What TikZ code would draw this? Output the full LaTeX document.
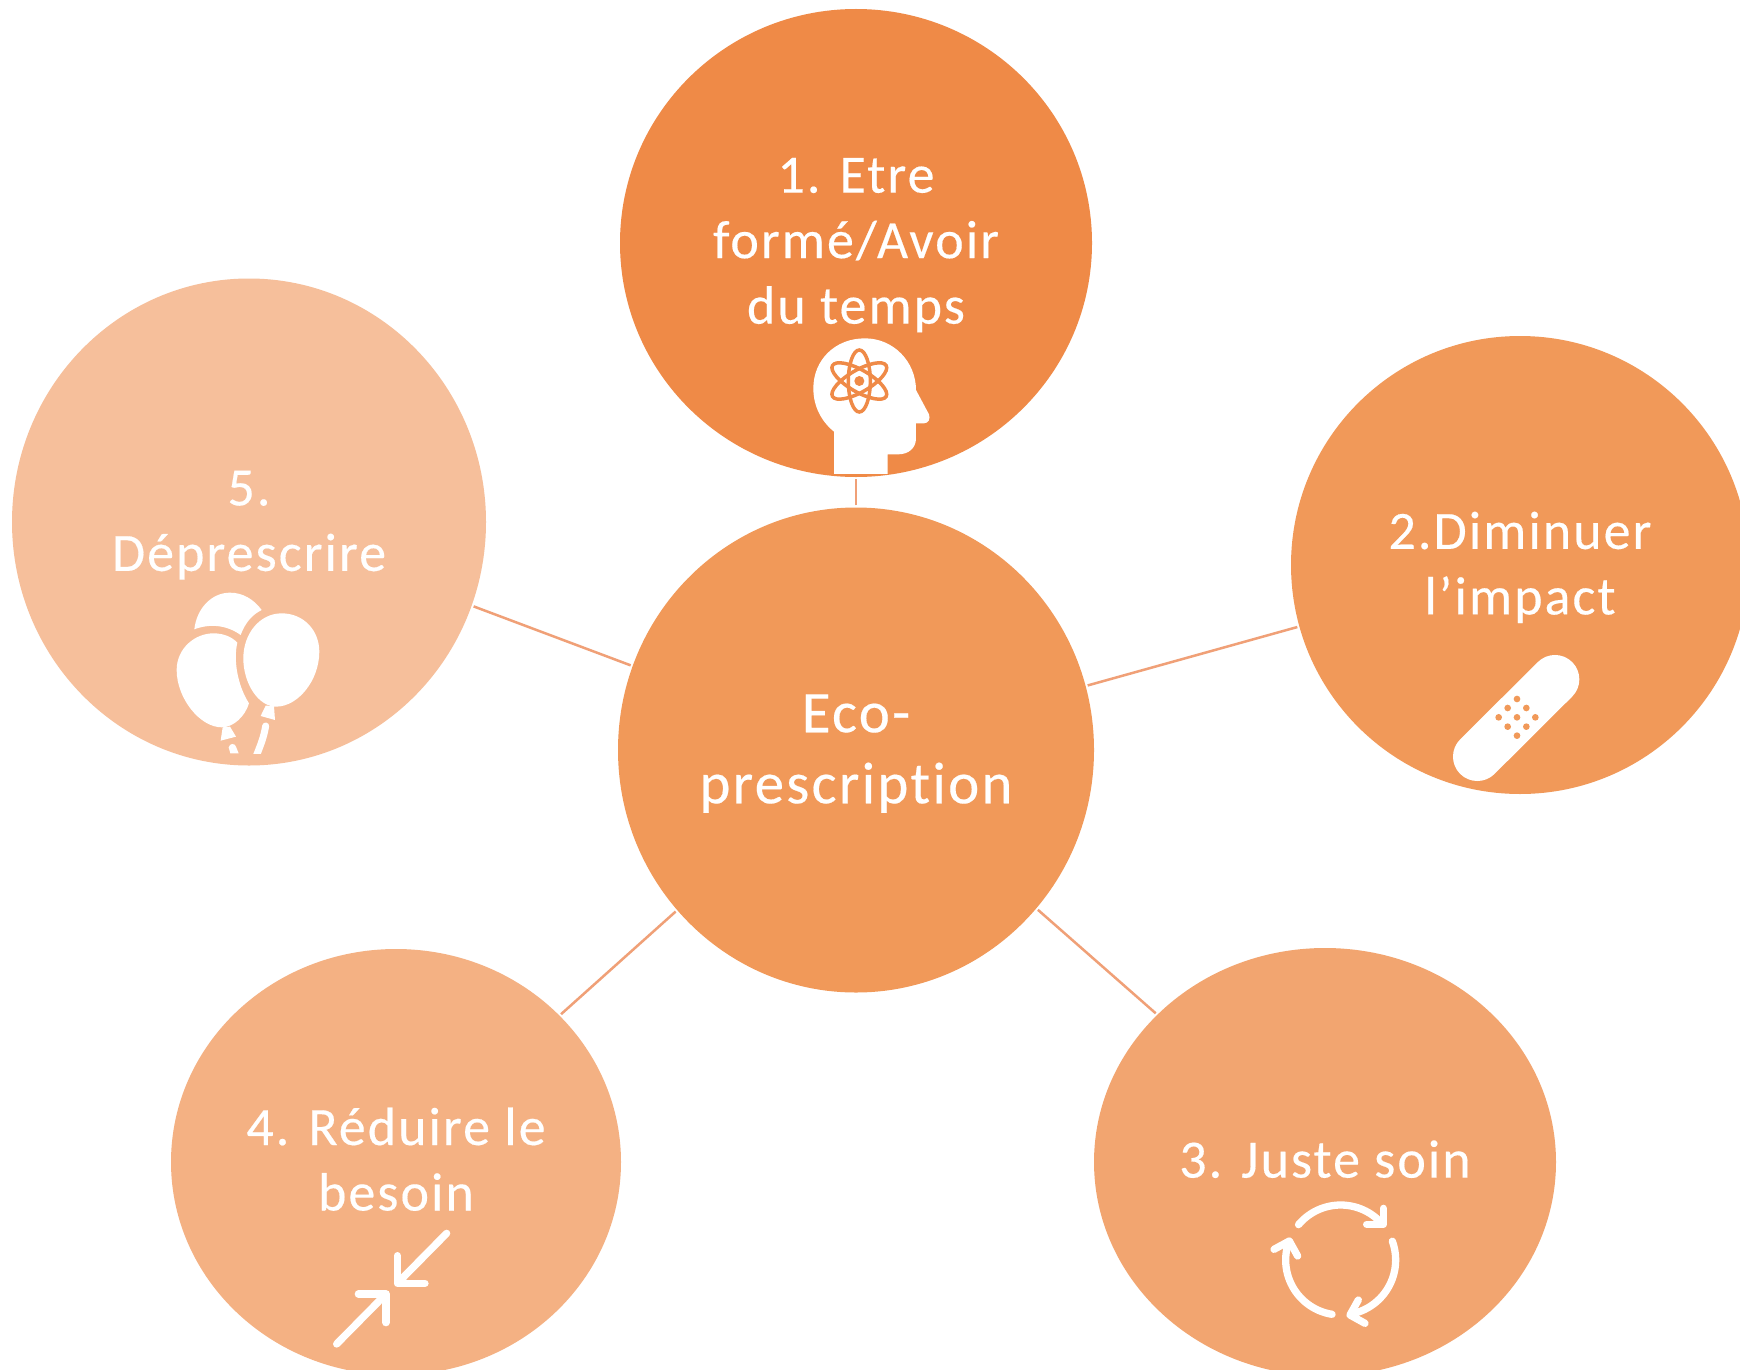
\documentclass[tikz,border=0pt]{standalone}
\usepackage{fontspec}
\setmainfont{Carlito}[LetterSpace=3.8,Ligatures=NoCommon,FakeBold=0.3]
\usetikzlibrary{shapes.geometric}
\definecolor{orangeA}{HTML}{EF8A47}
\definecolor{orangeB}{HTML}{F19959}
\definecolor{orangeC}{HTML}{F2A570}
\definecolor{orangeD}{HTML}{F4B183}
\definecolor{orangeE}{HTML}{F6BF9B}
\definecolor{spoke}{HTML}{F0A077}
\tikzset{
  bubble/.style={ellipse,draw=none,text=white,inner sep=0pt,align=center,
    font=\fontsize{54}{65.5}\selectfont},
  iconline/.style={white,line width=7.3pt,line cap=round,line join=round},
}
\newcommand{\cyclearc}[2]{\draw[iconline] plot[domain=#1:#2,samples=30] ({272+165*cos(\x)},{240-165*sin(\x)});}
% struts: nudge a node's text down or up inside its bubble
\newcommand{\pushdown}[1]{\rule{0pt}{#1pt}}
\newcommand{\pushup}[1]{\rule[-#1pt]{0pt}{#1pt}}

\begin{document}
\begin{tikzpicture}[x=1pt,y=-1pt]
  \clip (0,0) rectangle (1740,1370);
  \fill[white] (0,0) rectangle (1740,1370);

  \node[bubble,fill=orangeB,minimum width=476pt,minimum height=485pt,
    font=\fontsize{59}{71}\selectfont] (hub) at (856,750) {\pushdown{45}Eco-\\prescription};
  \node[bubble,fill=orangeA,minimum width=472pt,minimum height=468pt] (forme) at (856,243) {\pushdown{39}1. Etre\\formé/Avoir\\du temps};
  \node[bubble,fill=orangeB,minimum width=458pt,minimum height=458pt] (impact) at (1520,565) {\pushdown{42}2.Diminuer\\l’impact};
  \node[bubble,fill=orangeC,minimum width=462pt,minimum height=428pt] (soin) at (1325,1162) {3. Juste soin\pushup{6}};
  \node[bubble,fill=orangeD,minimum width=450pt,minimum height=426pt] (besoin) at (396,1162) {4. Réduire le\\besoin\pushup{6}};
  \node[bubble,fill=orangeE,minimum width=474pt,minimum height=487pt] (depres) at (249,522) {\pushdown{41}5.\\Déprescrire};

  \foreach \n in {forme,impact,soin,besoin,depres}
    \draw[spoke,line width=2.5pt,shorten <=2pt,shorten >=2pt] (hub) -- (\n);

  % head
  \begin{scope}[shift={(780,320)},scale=0.3333]
    \fill[white] (162,462) -- (162,335) .. controls (125,305) and (100,260) .. (100,205)
      .. controls (100,120) and (165,55) .. (255,55) .. controls (340,55) and (408,125) .. (408,210)
      -- (447,283) .. controls (452,297) and (445,310) .. (432,310) -- (408,310) -- (408,355)
      .. controls (408,385) and (385,403) .. (355,403) -- (323,403) -- (323,462) -- cycle;
    \begin{scope}[shift={(238,183)}]
      \foreach \a in {0,60,120}
        \draw[orangeA,line width=3.5pt,rotate=\a] (0,0) ellipse [x radius=33,y radius=93];
      \fill[orangeA] (0,0) circle [radius=15];
    \end{scope}
  \end{scope}

  % plaster
  \begin{scope}[shift={(1430,640)},scale=0.3333]
    \draw[white,line width=48.7pt,line cap=round] (375,118) -- (142,350);
    \foreach \dx/\dy in {0/0,0/-55,0/55,-55/0,55/0,-28/-28,28/-28,-28/28,28/28}
      \fill[orangeB] (261+\dx,232+\dy) circle [radius=10];
  \end{scope}

  % cycle arrows
  \begin{scope}[shift={(1250,1180)},scale=0.3333]
    \cyclearc{140}{42}
    \cyclearc{20}{-78}
    \cyclearc{-99}{-200}
    \draw[iconline] (400,85) -- (400,133) -- (350,133);
    \draw[iconline] (325,360) -- (300,405) -- (345,430);
    \draw[iconline] (72,208) -- (118,183) -- (143,228);
  \end{scope}

  % arrows inward
  \begin{scope}[shift={(320,1210)},scale=0.3333]
    \draw[iconline] (380,70) -- (236,216);
    \draw[iconline] (232,137) -- (232,220) -- (315,220);
    \draw[iconline] (50,402) -- (194,256);
    \draw[iconline] (115,252) -- (198,252) -- (198,338);
  \end{scope}

  % balloons
  \begin{scope}[shift={(150,570)},scale=0.3333]
    \fill[white] (395,130) .. controls (330,130) and (280,190) .. (280,265)
      .. controls (280,340) and (325,410) .. (378,410) .. controls (445,410) and (508,330) .. (508,245)
      .. controls (508,180) and (460,130) .. (395,130) -- cycle;
    \fill[white] (262,218) .. controls (250,270) and (262,345) .. (297,400)
      .. controls (285,440) and (250,472) .. (215,472) .. controls (150,472) and (80,385) .. (80,300)
      .. controls (80,235) and (135,190) .. (190,190) .. controls (220,190) and (245,200) .. (262,218) -- cycle;
    \fill[white] (133,178) .. controls (140,115) and (185,68) .. (240,68)
      .. controls (278,68) and (312,88) .. (335,120) .. controls (305,135) and (285,160) .. (272,195)
      .. controls (230,165) and (180,160) .. (133,178) -- cycle;
    \fill[white] (347,407) -- (332,438) -- (375,450) -- (372,408) -- cycle;
    \fill[white] (240,470) -- (258,500) -- (212,512) -- (218,472) -- cycle;
    \clip (100,440) rectangle (400,550);
    \draw[white,line width=7pt,line cap=round] (347,468) .. controls (342,500) and (332,525) .. (318,560);
    \fill[white] (236,532) .. controls (240,518) and (255,520) .. (258,530) -- (266,550) -- (241,550) -- cycle;
  \end{scope}
\end{tikzpicture}
\end{document}
